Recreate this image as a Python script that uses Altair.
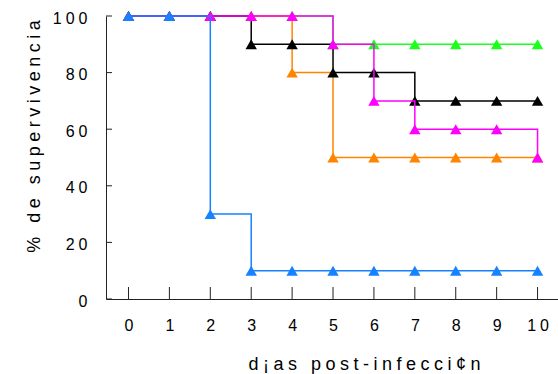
import altair as alt
import pandas as pd

# Survival (%) per day after infection, one list per group
days = [0, 1, 2, 3, 4, 5, 6, 7, 8, 9, 10]
surv_green = [100, 100, 100, 100, 100, 90, 90, 90, 90, 90, 90]
surv_orange = [100, 100, 100, 100, 80, 50, 50, 50, 50, 50, 50]
surv_black = [100, 100, 100, 90, 90, 80, 80, 70, 70, 70, 70]
surv_magenta = [100, 100, 100, 100, 100, 90, 70, 60, 60, 60, 50]
surv_blue = [100, 100, 30, 10, 10, 10, 10, 10, 10, 10, 10]

y_ticks = [0, 20, 40, 60, 80, 100]

# drawing order bottom -> top
series = [
    ("verde", surv_green, "#1CFF1C"),
    ("naranja", surv_orange, "#FF8400"),
    ("negro", surv_black, "#000000"),
    ("magenta", surv_magenta, "#FF00FF"),
    ("azul", surv_blue, "#1682FF"),
]

rows = []
for name, vals, _ in series:
    for d, v in zip(days, vals):
        rows.append({"grupo": name, "dia": d, "surv": v})
df = pd.DataFrame(rows)

W, H = 452, 283
SP = "\u2005"  # wide letter spacing used throughout the figure's text

x_title = SP.join("d¡as post-infecci¢n")
y_title = SP.join("% de supervivencia")

x_scale = alt.Scale(domain=[-0.55, 10.5], nice=False, zero=False)
y_scale = alt.Scale(domain=[0, 100], nice=False, zero=True)

x_axis = alt.Axis(
    values=days, format="d", grid=False, ticks=False, tickSize=0,
    labelPadding=26, labelBaseline="middle",
    labelExpr="join(split(datum.label, ''), '" + SP + "')",
    title=x_title, titleX=258, titleY=70, titleBaseline="alphabetic",
    titleAlign="center", titleAnchor="start",
)
y_axis = alt.Axis(
    values=y_ticks, grid=False, ticks=False, tickSize=0,
    labelPadding=19, labelBaseline="middle", labelOffset=2,
    labelExpr="join(split(datum.label, ''), '" + SP + "')",
    title=y_title, titleX=-67, titleY=120, titleBaseline="alphabetic",
    titleAlign="center", titleAngle=-90, titleAnchor="start",
)


def xq(field="dia"):
    return alt.X(f"{field}:Q", scale=x_scale, axis=x_axis, title=x_title)


def yq(field="surv"):
    return alt.Y(f"{field}:Q", scale=y_scale, axis=y_axis, title=y_title)


base = alt.Chart(df)

layers = []
for name, _, col in series:
    sub = base.transform_filter(alt.datum.grupo == name)
    line = sub.mark_line(interpolate="step-after", strokeWidth=1.5, color=col).encode(
        x=xq(), y=yq()
    )
    pts = sub.mark_point(shape="triangle-up", filled=True, size=130, opacity=1, color=col).encode(
        x=xq(), y=yq()
    )
    layers += [line, pts]

# inward tick marks
xt = alt.Chart(pd.DataFrame({"dia": days})).mark_rule(color="#222", strokeWidth=1).encode(
    x=xq(), y=alt.value(H - 12), y2=alt.value(H)
)
yt = alt.Chart(pd.DataFrame({"surv": y_ticks})).mark_rule(color="#222", strokeWidth=1).encode(
    y=yq(), x=alt.value(0), x2=alt.value(6)
)

chart = alt.layer(xt, yt, *layers).properties(
    width=W, height=H,
    autosize=alt.AutoSizeParams(type="none"),
    padding={"left": 106, "top": 16, "right": 0, "bottom": 75},
).configure_view(stroke=None).configure_axis(
    domainColor="#222", domainWidth=1,
    labelFont="Liberation Sans", labelFontSize=16, labelColor="#000",
    titleFont="Liberation Sans", titleFontSize=18, titleFontWeight="normal", titleColor="#000",
)

chart.save("out.html", embed_options={"renderer": "svg", "actions": False})
